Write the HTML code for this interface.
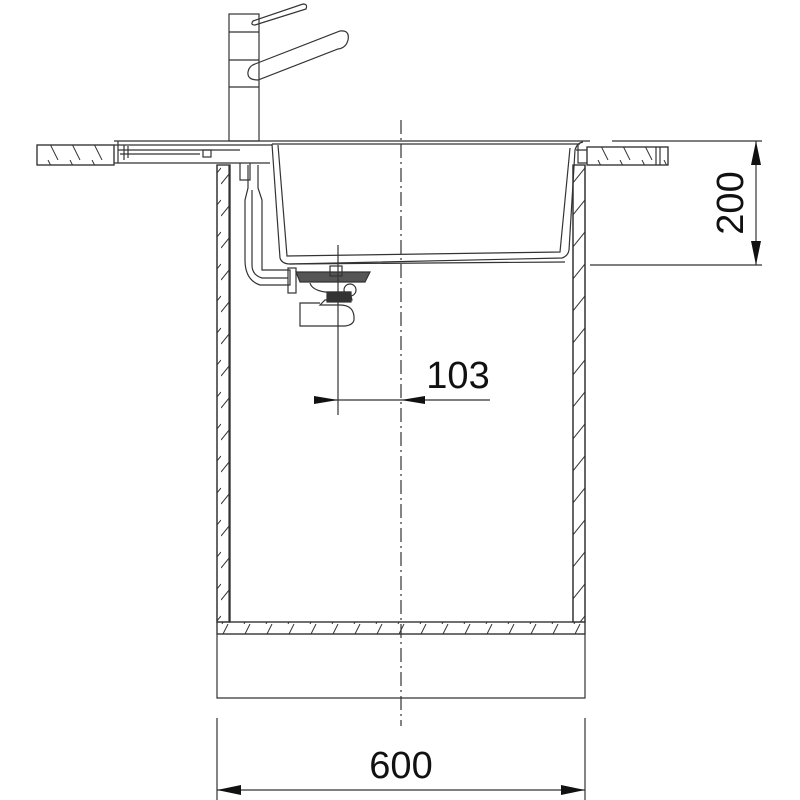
<!DOCTYPE html>
<html><head><meta charset="utf-8"><style>html,body{margin:0;padding:0;background:#fff}svg{display:block}</style></head>
<body>
<svg width="800" height="800" viewBox="0 0 800 800" xmlns="http://www.w3.org/2000/svg" fill="none" stroke="#333" stroke-width="1.2" font-family="Liberation Sans, sans-serif">
<defs>
<pattern id="h" width="22" height="20" patternUnits="userSpaceOnUse"><path d="M4,0 L14,20" stroke="#333" stroke-width="1"/></pattern>
<pattern id="hs" width="22" height="12" patternUnits="userSpaceOnUse"><path d="M2,12 L8,0" stroke="#333" stroke-width="1"/></pattern>
<pattern id="hv" width="13" height="32" patternUnits="userSpaceOnUse"><path d="M0,24 L13,8" stroke="#333" stroke-width="1"/></pattern>
</defs>
<rect x="37" y="145" width="77" height="20" fill="url(#h)"/>
<rect x="37" y="145" width="77" height="20"/>
<rect x="587" y="147" width="81" height="18" fill="url(#h)"/>
<rect x="587" y="147" width="81" height="18"/>
<line x1="656" y1="147" x2="656" y2="165"/><line x1="660" y1="147" x2="660" y2="165"/>
<rect x="217" y="165" width="13" height="457" fill="url(#hv)"/>
<rect x="217" y="165" width="13" height="457"/>
<rect x="573" y="165" width="12" height="457" fill="url(#hv)"/>
<rect x="573" y="165" width="12" height="457"/>
<rect x="217" y="622" width="368" height="12" fill="url(#hs)"/>
<path d="M217,165 V698 H585 V165"/>
<path d="M229,165 V622 H573 V165"/>
<line x1="217" y1="634" x2="585" y2="634"/>
<path d="M114,141 H272 M114,145 H272 M118,150 H240 M120,154 H200 M114,163 H270"/>
<path d="M118,141 V163 M124,145 V160 M128,146 V158"/>
<rect x="203" y="150" width="8" height="7"/>
<path d="M272,141 H590 M272,144 H580"/>
<path d="M272,144 L280,258 Q282,264 290,264 L562,258 Q568,256 569,250 L575,150 Q577,143 583,142"/>
<path d="M278,145 L287,256 L560,252 L570,148"/>
<path d="M290,264 L565,262" />
<path d="M578,145 V163 H587 M576,150 H587"/>
<rect x="229" y="14" width="30" height="127"/>
<line x1="229" y1="32" x2="259" y2="32"/><line x1="229" y1="60" x2="259" y2="60"/><line x1="229" y1="87" x2="259" y2="87"/>
<path d="M253,21 L303,4 Q308,4 306,9 L255,25 Q250,25 253,21Z"/>
<path d="M255,64 L340,31 Q350,30 348,40 Q346,48 338,49 L258,80 Q247,80 248,72 Q249,66 255,64Z"/>
<path d="M240,163 V180 H250 V163"/>
<path d="M248,165 L248,188 L245,200 L245,260 Q245,280 260,285 L290,285 L290,270 L262,270 L262,200 L258,188 L258,165"/>
<path d="M252,190 L252,265 Q252,275 262,278 L288,278"/>
<rect x="288" y="268" width="8" height="25"/>
<path d="M296,272 H370 L365,282 H300 Z" fill="#555"/>
<rect x="330" y="266" width="12" height="10"/>
<path d="M310,283 Q312,290 325,292 H350 L352,300 H325 L320,305 H340 Q355,305 354,320 Q353,325 345,326 H300 V303 H320"/>
<rect x="327" y="292" width="24" height="10" fill="#333"/>
<circle cx="350" cy="290" r="6"/>
<line x1="401" y1="120" x2="401" y2="726" stroke-dasharray="14,4,2,4"/>
<line x1="338" y1="245" x2="338" y2="415"/>
<line x1="314" y1="400" x2="490" y2="400"/>
<path d="M314,396 L338,400 L314,404Z M425,396 L401,400 L425,404Z" fill="#111" stroke="none"/>
<text x="458" y="388" font-size="38" fill="#111" stroke="none" text-anchor="middle">103</text>
<line x1="612" y1="141" x2="762" y2="141"/>
<line x1="590" y1="265" x2="762" y2="265"/>
<line x1="756" y1="141" x2="756" y2="265"/>
<path d="M751,165 L756,141 L761,165Z M751,241 L756,265 L761,241Z" fill="#111" stroke="none"/>
<text transform="translate(743,203) rotate(-90)" font-size="38" fill="#111" stroke="none" text-anchor="middle">200</text>
<line x1="217" y1="718" x2="217" y2="800"/>
<line x1="585" y1="718" x2="585" y2="800"/>
<line x1="217" y1="790" x2="585" y2="790"/>
<path d="M241,785 L217,790 L241,795Z M561,785 L585,790 L561,795Z" fill="#111" stroke="none"/>
<text x="401" y="778" font-size="38" fill="#111" stroke="none" text-anchor="middle">600</text>
</svg>
</body></html>
